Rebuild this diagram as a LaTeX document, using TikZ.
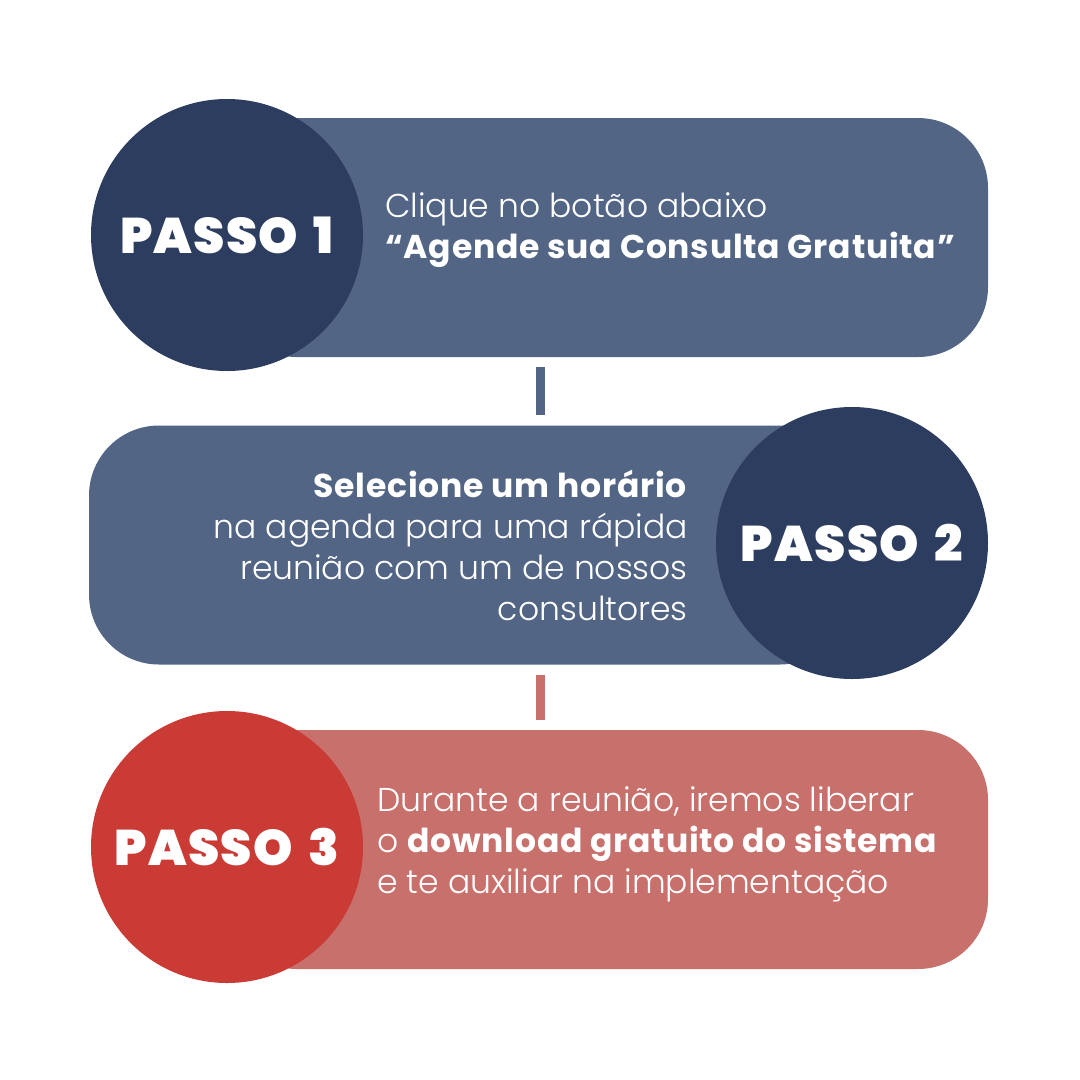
\documentclass[tikz,border=0pt]{standalone}
\usepackage{fontspec}
\setmainfont{Poppins Light}[BoldFont=Poppins Bold, BoldFeatures={LetterSpace=2.4}]
\newfontfamily\heavy{Poppins Black}[LetterSpace=2.5]
\definecolor{boxblue}{HTML}{536585}
\definecolor{navy}{HTML}{2C3D5F}
\definecolor{redc}{HTML}{CB3B35}
\definecolor{pinkbox}{HTML}{C8706C}
\newcommand{\gapsp}{~\hspace{6pt}}
\begin{document}
\begin{tikzpicture}[x=1pt,y=-1pt,
  stepbox/.style={rectangle, rounded corners=70pt, minimum width=761pt, minimum height=239pt, inner sep=0pt},
  disc/.style={circle, minimum size=272pt, inner sep=0pt},
  title/.style={text=white, font=\heavy\fontsize{50}{50}\selectfont, inner sep=0pt},
  body/.style={text=white, font=\fontsize{33}{41}\selectfont, inner sep=0pt},
  bar/.style={line width=9pt, shorten >=10pt, shorten <=10pt}]
\useasboundingbox (0,0) rectangle (1080,1080);
% step 1
\node[stepbox, fill=boxblue] (box1) at (607.5,237.5) {};
\node[disc, fill=navy] (c1) at (227,235) {};
\node[title] (t1) at (c1) {PASSO\gapsp{}1};
\node[body, anchor=base west, align=left] (x1) at (385,258) {Clique no botão abaixo\\\textbf{“Agende sua Consulta Gratuita”}};
% step 2
\node[stepbox, fill=boxblue] (box2) at (469.5,545) {};
\node[disc, fill=navy] (c2) at (852,543) {};
\node[title] (t2) at (c2) {PASSO\gapsp{}2};
\node[body, anchor=base east, align=right] (x2) at (688,620) {\textbf{Selecione um horário}\\na agenda para uma rápida\\reunião com um de nossos\\consultores};
% step 3
\node[stepbox, fill=pinkbox] (box3) at (607.5,849.5) {};
\node[disc, fill=redc] (c3) at (227,847) {};
\node[title] (t3) at (c3) {PASSO\gapsp{}3};
\node[body, anchor=base west, align=left] (x3) at (377,893) {Durante a reunião, iremos liberar\\o \textbf{download gratuito do sistema}\\e te auxiliar na implementação};
% connectors
\coordinate (b1) at (box1.south -| 540.5,0);
\coordinate (b2) at (box2.north -| 540.5,0);
\coordinate (b3) at (box2.south -| 540.5,0);
\coordinate (b4) at (box3.north -| 540.5,0);
\draw[bar, boxblue] (b1) -- (b2);
\draw[bar, pinkbox] (b3) -- (b4);
\end{tikzpicture}
\end{document}
